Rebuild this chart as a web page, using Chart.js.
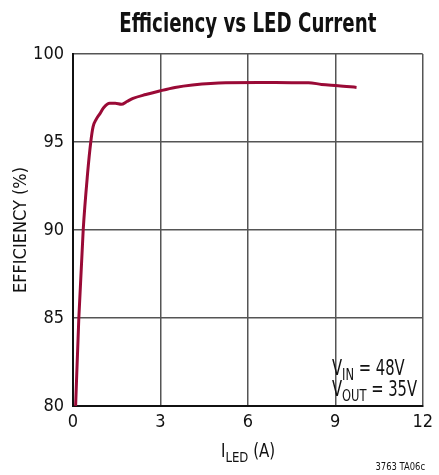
<!DOCTYPE html>
<html>
<head>
<meta charset="utf-8">
<script src="https://cdn.jsdelivr.net/npm/chart.js@4"></script>
<style>
  html, body { margin: 0; padding: 0; background: #fff; }
  #wrap { width: 439px; height: 475px; }
</style>
</head>
<body>
<div id="wrap"><canvas id="chart"></canvas></div>
<script>
// data
const currentA = [0.09, 0.2, 0.35, 0.5, 0.61, 0.69, 0.8, 0.92, 1.05, 1.26, 1.45, 1.66, 1.85, 2.06, 2.5, 2.97, 3.5, 4.1, 5.24, 6.38, 7.5, 8.08, 8.53, 9.1, 9.73];
const efficiency = [80, 85, 90, 93.2, 95, 95.87, 96.3, 96.6, 96.95, 97.2, 97.2, 97.14, 97.3, 97.48, 97.7, 97.9, 98.1, 98.24, 98.37, 98.38, 98.37, 98.37, 98.27, 98.2, 98.1];
const xTicks = [0, 3, 6, 9, 12];
const yTicks = [80, 85, 90, 95, 100];

const FONT = "'Liberation Sans Narrow', 'DejaVu Sans Condensed', 'Liberation Sans', sans-serif";

// draw a line of text with subscript runs, squeezed horizontally by hs
function drawRuns(ctx, runs, x, y, size, hs) {
  ctx.save();
  ctx.translate(x, y);
  ctx.scale(hs, 1);
  let cx = 0;
  runs.forEach((r) => {
    const s = r.sub ? size * 0.78 : size;
    ctx.font = s + 'px ' + FONT;
    ctx.fillText(r.t, cx, r.sub ? size * 0.24 : 0);
    cx += ctx.measureText(r.t).width;
  });
  ctx.restore();
}

const labelsPlugin = {
  id: 'labels',
  afterDraw(chart) {
    const ctx = chart.ctx;
    const area = chart.chartArea;
    ctx.save();
    ctx.fillStyle = '#111';
    ctx.textBaseline = 'alphabetic';
    ctx.textAlign = 'left';

    // title, centred over the plot area
    ctx.font = 'bold 27px ' + FONT;
    const title = 'Efficiency vs LED Current';
    const tw = ctx.measureText(title).width;
    const hs = Math.min(1, 257 / tw);
    ctx.save();
    ctx.translate((area.left + area.right) / 2, 32);
    ctx.scale(hs, 1);
    ctx.textAlign = 'center';
    ctx.fillText(title, 0, 0);
    ctx.restore();

    drawRuns(ctx, [{ t: 'I' }, { t: 'LED', sub: true }, { t: ' (A)' }], 221, 457, 19, 0.88);
    drawRuns(ctx, [{ t: 'V' }, { t: 'IN', sub: true }, { t: ' = 48V' }], 332, 375, 21, 0.78);
    drawRuns(ctx, [{ t: 'V' }, { t: 'OUT', sub: true }, { t: ' = 35V' }], 332, 396, 21, 0.78);
    ctx.textAlign = 'right';
    drawRuns(ctx, [{ t: '3763 TA06c' }], 425, 470, 11, 0.85);
    ctx.restore();
  }
};

const points = currentA.map((x, i) => ({ x: x, y: efficiency[i] }));

new Chart(document.getElementById('chart'), {
  type: 'line',
  data: {
    datasets: [{
      data: points,
      borderColor: '#9a0a36',
      borderWidth: 3,
      pointRadius: 0,
      cubicInterpolationMode: 'monotone',
      fill: false
    }]
  },
  options: {
    responsive: true,
    maintainAspectRatio: false,
    animation: false,
    layout: { padding: { left: 0, right: 14, top: 54, bottom: 0 } },
    plugins: {
      legend: { display: false },
      tooltip: { enabled: false },
      title: { display: false }
    },
    scales: {
      x: {
        type: 'linear',
        min: 0,
        max: 12,
        afterBuildTicks(scale) { scale.ticks = xTicks.map((v) => ({ value: v })); },
        afterFit(scale) { scale.height = 69; },
        grid: { color: '#555', lineWidth: 1.5, drawTicks: false },
        border: { color: '#111', width: 2 },
        ticks: { color: '#111', padding: 6, font: { family: FONT, size: 18 } }
      },
      y: {
        min: 80,
        max: 100,
        afterBuildTicks(scale) { scale.ticks = yTicks.map((v) => ({ value: v })); },
        afterFit(scale) { scale.width = 73; },
        grid: { color: '#555', lineWidth: 1.5, drawTicks: false },
        border: { color: '#111', width: 2 },
        ticks: { color: '#111', padding: 9, font: { family: FONT, size: 18 } },
        title: {
          display: true,
          text: 'EFFICIENCY (%)',
          color: '#111',
          padding: { top: 11, bottom: 0 },
          font: { family: FONT, size: 18 }
        }
      }
    }
  },
  plugins: [labelsPlugin]
});
</script>
</body>
</html>
